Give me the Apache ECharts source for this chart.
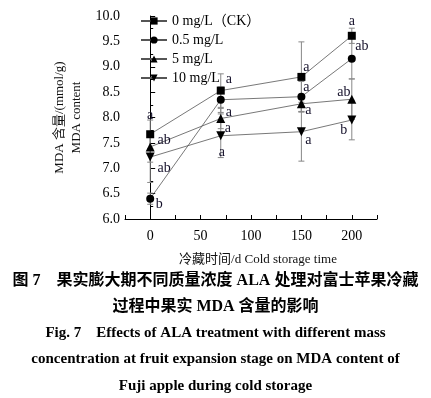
<!DOCTYPE html>
<html lang="zh">
<head>
<meta charset="UTF-8">
<title>MDA 含量</title>
<script src="https://cdn.jsdelivr.net/npm/echarts@6/dist/echarts.min.js"></script>
<style>
  html, body { margin: 0; padding: 0; background: #fff; }
  #chart { width: 431px; height: 398px; }
</style>
</head>
<body>
<div id="chart"></div>
<script>
// storage days
var days = [0, 70, 150, 200];
var seriesNames = ['0 mg/L（CK）', '0.5 mg/L', '5 mg/L', '10 mg/L'];
// MDA content, mmol/g
var mdaCK   = [7.67, 8.53, 8.80, 9.61];
var mda05   = [6.40, 8.35, 8.41, 9.16];
var mda5    = [7.42, 7.98, 8.27, 8.36];
var mda10   = [7.22, 7.64, 7.72, 7.95];
// standard error
var errCK   = [0.28, 0.33, 0.69, 0.15];
var err05   = [0.11, 0.25, 0.30, 0.40];
var err5    = [0.30, 0.20, 0.15, 0.40];
var err10   = [0.50, 0.43, 0.58, 0.39];
// significance letters
var letCK   = ['a', 'a', 'a', 'a'];
var let05   = ['b', 'a', 'a', 'ab'];
var let5    = ['ab', 'a', 'a', 'ab'];
var let10   = ['ab', 'a', 'a', 'b'];
var yTicks  = [6.0, 6.5, 7.0, 7.5, 8.0, 8.5, 9.0, 9.5, 10.0];
var xTicks  = [0, 50, 100, 150, 200];

// pixel offsets of letters from their marker (layout only)
var letterOffsets = [
  [[0, -19], [8, -11], [5, -10], [0, -14]],
  [[9, 6], [8, 13], [5, -9], [10, -12]],
  [[14, -7], [7, 10], [7, 7], [-8, -7]],
  [[14, 11], [1, 17], [7, 9], [-8, 10]]
];

var means = [mdaCK, mda05, mda5, mda10];
var errs = [errCK, err05, err5, err10];
var letters = [letCK, let05, let5, let10];
var symbols = ['rect', 'circle', 'triangle', 'triangle'];
var symbolSizes = [8, 8, 9, 9];
var rotates = [0, 0, 0, 180];

var serif = '"Liberation Serif", "Times New Roman", serif';
var cjkSerif = '"Liberation Serif", "Noto Sans CJK SC", serif';

var chart = echarts.init(document.getElementById('chart'));

var series = [];

// error bars first so they sit under the markers
for (var s = 0; s < 4; s++) {
  var errData = [];
  for (var i = 0; i < days.length; i++) {
    errData.push([days[i], means[s][i] - errs[s][i], means[s][i] + errs[s][i]]);
  }
  series.push({
    type: 'custom',
    silent: true,
    z: 1,
    data: errData,
    renderItem: function (params, api) {
      var lo = api.coord([api.value(0), api.value(1)]);
      var hi = api.coord([api.value(0), api.value(2)]);
      var w = 3;
      var st = { stroke: '#888', lineWidth: 1 };
      return {
        type: 'group',
        children: [
          { type: 'line', shape: { x1: lo[0], y1: lo[1], x2: hi[0], y2: hi[1] }, style: st },
          { type: 'line', shape: { x1: lo[0] - w, y1: lo[1], x2: lo[0] + w, y2: lo[1] }, style: st },
          { type: 'line', shape: { x1: hi[0] - w, y1: hi[1], x2: hi[0] + w, y2: hi[1] }, style: st }
        ]
      };
    }
  });
}

for (var s = 0; s < 4; s++) {
  var pts = [];
  for (var i = 0; i < days.length; i++) pts.push([days[i], means[s][i]]);
  series.push({
    name: seriesNames[s],
    type: 'line',
    z: 3,
    data: pts,
    symbol: symbols[s],
    symbolSize: symbolSizes[s],
    symbolRotate: rotates[s],
    showAllSymbol: true,
    lineStyle: { color: '#555', width: 0.8 },
    itemStyle: { color: '#000', borderWidth: 0 },
    emphasis: { disabled: true },
    animation: false
  });
}

// significance letters, drawn as text next to each point
for (var s = 0; s < 4; s++) {
  var lp = [];
  for (var i = 0; i < days.length; i++) {
    lp.push([days[i], means[s][i], s, i]);
  }
  series.push({
    type: 'custom',
    z: 4,
    silent: true,
    data: lp,
    renderItem: function (params, api) {
      var p = api.coord([api.value(0), api.value(1)]);
      var si = api.value(2), di = api.value(3);
      var off = letterOffsets[si][di];
      return {
        type: 'text',
        x: p[0] + off[0],
        y: p[1] + off[1],
        style: {
          text: letters[si][di],
          fontFamily: serif,
          fontSize: 14,
          fill: '#14102a',
          align: 'center',
          verticalAlign: 'middle'
        }
      };
    }
  });
}

var option = {
  backgroundColor: '#fff',
  animation: false,
  grid: { left: 125, right: 54, top: 16, bottom: 179 },
  legend: {
    orient: 'vertical',
    left: 135,
    top: 9,
    itemWidth: 26,
    itemHeight: 9,
    itemGap: 5,
    data: seriesNames,
    textStyle: { fontFamily: cjkSerif, fontSize: 14, color: '#000' }
  },
  xAxis: {
    type: 'value',
    min: -25,
    max: 225,
    interval: 25,
    name: '冷藏时间/d Cold storage time',
    nameLocation: 'middle',
    nameGap: 34,
    nameTextStyle: { fontFamily: cjkSerif, fontSize: 13, color: '#111', padding: [0, 0, 0, 14] },
    axisLine: { lineStyle: { color: '#000', width: 1 } },
    axisTick: { inside: true, length: 4, lineStyle: { color: '#000' } },
    axisLabel: {
      fontFamily: serif, fontSize: 14, color: '#000', margin: 10,
      formatter: function (v) { return xTicks.indexOf(v) >= 0 ? String(v) : ''; }
    },
    splitLine: { show: false }
  },
  yAxis: {
    type: 'value',
    min: yTicks[0],
    max: yTicks[yTicks.length - 1],
    interval: 0.5,
    name: 'MDA 含量/(mmol/g)\nMDA content',
    nameLocation: 'middle',
    nameGap: 39,
    nameRotate: 90,
    nameTextStyle: { fontFamily: cjkSerif, fontSize: 13, color: '#111', lineHeight: 17 },
    axisLine: { show: true, lineStyle: { color: '#000', width: 1 } },
    axisTick: { inside: true, length: 5, lineStyle: { color: '#000' } },
    minorTick: { show: true, splitNumber: 2, length: 3, lineStyle: { color: '#000' } },
    axisLabel: {
      fontFamily: serif, fontSize: 14, color: '#000', margin: 5,
      formatter: function (v) { return v.toFixed(1); }
    },
    splitLine: { show: false }
  },
  graphic: [
    { type: 'text', left: 'center', top: 273,
      style: { text: '图 7　果实膨大期不同质量浓度 ALA 处理对富士苹果冷藏', fontFamily: cjkSerif, fontWeight: 'bold', fontSize: 16, fill: '#000' } },
    { type: 'text', left: 'center', top: 299,
      style: { text: '过程中果实 MDA 含量的影响', fontFamily: cjkSerif, fontWeight: 'bold', fontSize: 16, fill: '#000' } },
    { type: 'text', left: 'center', top: 326,
      style: { text: 'Fig. 7　Effects of ALA treatment with different mass', fontFamily: serif, fontWeight: 'bold', fontSize: 15, fill: '#000' } },
    { type: 'text', left: 'center', top: 352,
      style: { text: 'concentration at fruit expansion stage on MDA content of', fontFamily: serif, fontWeight: 'bold', fontSize: 15, fill: '#000' } },
    { type: 'text', left: 'center', top: 379,
      style: { text: 'Fuji apple during cold storage', fontFamily: serif, fontWeight: 'bold', fontSize: 15, fill: '#000' } }
  ],
  series: series
};

chart.setOption(option);
</script>
</body>
</html>
